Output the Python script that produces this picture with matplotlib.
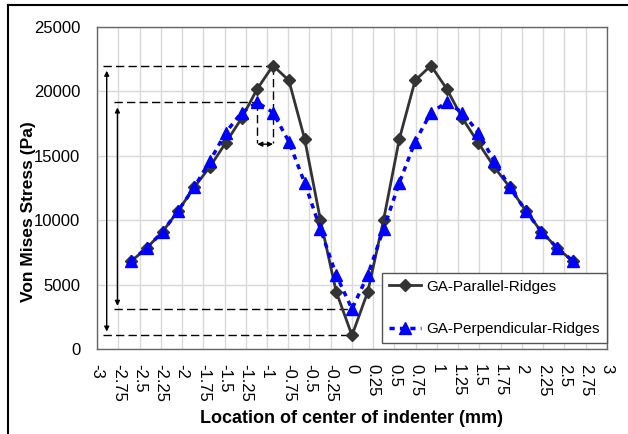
import matplotlib.pyplot as plt
from matplotlib.lines import Line2D

plt.rcParams['font.family'] = ['Liberation Sans', 'DejaVu Sans']

# indenter location (mm)
x_loc = [-2.6, -2.414, -2.229, -2.043, -1.857, -1.671, -1.486, -1.3, -1.114, -0.929,
         -0.743, -0.557, -0.371, -0.186, 0.0, 0.186, 0.371, 0.557, 0.743, 0.929,
         1.114, 1.3, 1.486, 1.671, 1.857, 2.043, 2.229, 2.414, 2.6]

parallel = [6800, 7850, 9100, 10750, 12550, 14150, 16000, 17900, 20200, 22000,
            20850, 16300, 10000, 4450, 1050, 4450, 10000, 16300, 20850, 22000,
            20200, 17900, 16000, 14150, 12550, 10750, 9100, 7850, 6800]

perpendicular = [6830, 7850, 9100, 10750, 12550, 14600, 16800, 18350, 19150, 18350,
                 16100, 12900, 9300, 5750, 3100, 5750, 9300, 12900, 16100, 18350,
                 19150, 18350, 16800, 14600, 12550, 10750, 9100, 7850, 6830]

x_ticks = [-3, -2.75, -2.5, -2.25, -2, -1.75, -1.5, -1.25, -1, -0.75, -0.5, -0.25, 0,
           0.25, 0.5, 0.75, 1, 1.25, 1.5, 1.75, 2, 2.25, 2.5, 2.75, 3]
y_ticks = [0, 5000, 10000, 15000, 20000, 25000]

fig = plt.figure(figsize=(6.28, 4.34), dpi=100)
ax = fig.add_axes([0.1545, 0.1959, 0.812, 0.742])

ax.plot(x_loc, parallel, color='#333333', lw=2, marker='D', markersize=6,
        label='GA-Parallel-Ridges', zorder=4)
ax.plot(x_loc, perpendicular, color='#0000ff', lw=2.5, dashes=(1.5, 1.5), marker='^',
        markersize=8.5, label='GA-Perpendicular-Ridges', zorder=5)

# annotation lines (peak / minimum reference)
dash = dict(color='black', lw=1, dashes=(6, 3), zorder=3)
ax.plot([-2.93, -0.929], [22000, 22000], **dash)
ax.plot([-2.80, -1.114], [19150, 19150], **dash)
ax.plot([-2.93, 0], [1050, 1050], **dash)
ax.plot([-2.80, 0], [3100, 3100], **dash)
ax.plot([-0.929, -0.929], [22000, 16000], **dash)
ax.plot([-1.114, -1.114], [19150, 16000], **dash)

arr = dict(arrowstyle='<|-|>', color='black', lw=1, mutation_scale=7, shrinkA=0, shrinkB=0)
ax.annotate('', xy=(-2.886, 21600), xytext=(-2.886, 1350), arrowprops=arr)
ax.annotate('', xy=(-2.76, 18750), xytext=(-2.76, 3350), arrowprops=arr)
ax.annotate('', xy=(-1.114, 15900), xytext=(-0.929, 15900), arrowprops=arr)

ax.set_xlim(-3, 3)
ax.set_ylim(0, 25000)
ax.set_xticks(x_ticks)
ax.set_xticklabels([f'{t:g}' for t in x_ticks], rotation=270, fontsize=12)
ax.set_yticks(y_ticks)
ax.set_yticklabels([str(t) for t in y_ticks], fontsize=12)
ax.tick_params(length=0)
ax.tick_params(axis='y', pad=12)
ax.tick_params(axis='x', pad=11)
ax.grid(True, color='#d9d9d9', lw=1)
ax.set_axisbelow(True)
for s in ax.spines.values():
    s.set_color('#666666')
    s.set_linewidth(1)

ax.set_xlabel('Location of center of indenter (mm)', fontsize=13, fontweight='bold')
ax.set_ylabel('Von Mises Stress (Pa)', fontsize=12.5, fontweight='bold')
ax.xaxis.set_label_coords(0.5, -0.19)
ax.yaxis.set_label_coords(-0.12, 0.425)

leg = ax.legend(loc='lower right', bbox_to_anchor=(1.0, 0.019), borderaxespad=0,
                fontsize=11, frameon=True, fancybox=False, edgecolor='#555555',
                framealpha=1, handlelength=2.1, handletextpad=0.35,
                labelspacing=1.85, borderpad=0.45)
leg.get_frame().set_linewidth(1)

# figure frame (left and top edges)
fig.add_artist(Line2D([0.0127, 0.0127], [0, 0.988], transform=fig.transFigure, color='black', lw=1.5))
fig.add_artist(Line2D([0.0127, 1.0], [0.988, 0.988], transform=fig.transFigure, color='black', lw=1.5))

fig.savefig('out.png', dpi=100)
